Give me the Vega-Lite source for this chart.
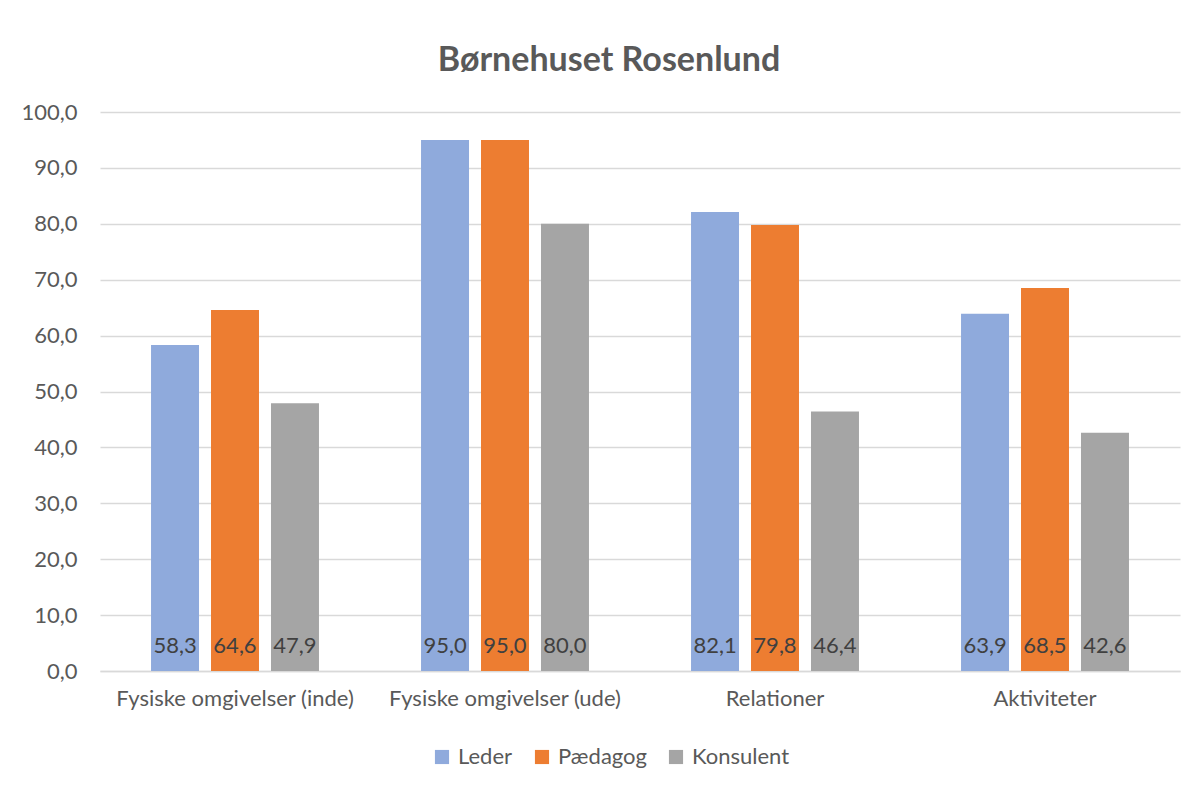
{
  "$schema": "https://vega.github.io/schema/vega-lite/v6.json",
  "width": 1080,
  "height": 559,
  "autosize": {"type": "none"},
  "padding": {"left": 100, "top": 112, "right": 17, "bottom": 114},
  "background": "white",
  "title": {
    "text": "Børnehuset Rosenlund",
    "font": "Lato",
    "fontSize": 34,
    "fontWeight": "bold",
    "color": "#595959",
    "anchor": "middle",
    "frame": "group",
    "dx": -31,
    "offset": 23
  },
  "config": {
    "locale": {"number": {"decimal": ",", "thousands": ".", "grouping": [3], "currency": ["", " kr."]}},
    "view": {"stroke": null},
    "font": "Lato",
    "axis": {"labelFont": "Lato", "labelColor": "#595959", "labelFontSize": 22, "labelLimit": 400, "ticks": false, "gridColor": "#d9d9d9", "gridWidth": 1.3, "title": null}
  },
  "data": {
    "values": [
      {"kategori": "Fysiske omgivelser (inde)", "gruppe": "Leder", "vaerdi": 58.3},
      {"kategori": "Fysiske omgivelser (inde)", "gruppe": "Pædagog", "vaerdi": 64.6},
      {"kategori": "Fysiske omgivelser (inde)", "gruppe": "Konsulent", "vaerdi": 47.9},
      {"kategori": "Fysiske omgivelser (ude)", "gruppe": "Leder", "vaerdi": 95.0},
      {"kategori": "Fysiske omgivelser (ude)", "gruppe": "Pædagog", "vaerdi": 95.0},
      {"kategori": "Fysiske omgivelser (ude)", "gruppe": "Konsulent", "vaerdi": 80.0},
      {"kategori": "Relationer", "gruppe": "Leder", "vaerdi": 82.1},
      {"kategori": "Relationer", "gruppe": "Pædagog", "vaerdi": 79.8},
      {"kategori": "Relationer", "gruppe": "Konsulent", "vaerdi": 46.4},
      {"kategori": "Aktiviteter", "gruppe": "Leder", "vaerdi": 63.9},
      {"kategori": "Aktiviteter", "gruppe": "Pædagog", "vaerdi": 68.5},
      {"kategori": "Aktiviteter", "gruppe": "Konsulent", "vaerdi": 42.6}
    ]
  },
  "encoding": {
    "x": {
      "field": "kategori",
      "type": "nominal",
      "sort": null,
      "scale": {"paddingInner": 0.378, "paddingOuter": 0.189},
      "axis": {"labelAngle": 0, "labelPadding": 17, "domainColor": "#d9d9d9", "domainWidth": 1.3, "grid": false}
    },
    "xOffset": {
      "field": "gruppe",
      "type": "nominal",
      "sort": ["Leder", "Pædagog", "Konsulent"],
      "scale": {"paddingInner": 0.2, "paddingOuter": 0}
    }
  },
  "layer": [
    {
      "mark": {"type": "bar"},
      "encoding": {
        "y": {
          "field": "vaerdi",
          "type": "quantitative",
          "scale": {"domain": [0, 100], "nice": false},
          "axis": {"values": [0, 10, 20, 30, 40, 50, 60, 70, 80, 90, 100], "format": ".1f", "domain": false, "labelPadding": 23}
        },
        "color": {
          "field": "gruppe",
          "type": "nominal",
          "sort": ["Leder", "Pædagog", "Konsulent"],
          "scale": {"domain": ["Leder", "Pædagog", "Konsulent"], "range": ["#8faadc", "#ed7d31", "#a5a5a5"]},
          "legend": {
            "title": null,
            "orient": "none",
            "direction": "horizontal",
            "legendX": 331,
            "legendY": 634,
            "symbolType": "square",
            "symbolSize": 200,
            "symbolStrokeWidth": 0,
            "labelFont": "Lato",
            "labelFontSize": 22,
            "labelColor": "#595959",
            "columnPadding": 18,
            "labelOffset": 5
          }
        }
      }
    },
    {
      "mark": {"type": "text", "baseline": "alphabetic", "dy": -18, "fontSize": 22, "color": "#404040", "font": "Lato"},
      "encoding": {
        "y": {"datum": 0, "type": "quantitative"},
        "text": {"field": "vaerdi", "type": "quantitative", "format": ".1f"}
      }
    }
  ]
}
